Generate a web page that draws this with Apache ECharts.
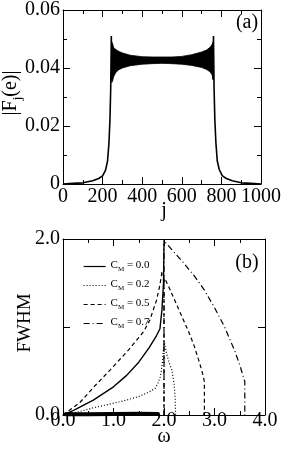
<!DOCTYPE html>
<html>
<head>
<meta charset="utf-8">
<script src="https://cdn.jsdelivr.net/npm/echarts@6/dist/echarts.min.js"></script>
<style>
html,body{margin:0;padding:0;background:#fff;}
#c{width:284px;height:449px;}
</style>
</head>
<body>
<div id="c"></div>
<script>
// ---------- Panel (a) data ----------
const aJLeft  = [0, 50, 100, 150, 180, 200, 215, 225, 232, 237, 241, 243, 244, 246];
const aFLeft  = [0, 0.0002, 0.0004, 0.0011, 0.0019, 0.0028, 0.0048, 0.008, 0.014, 0.022, 0.033, 0.045, 0.051, 0.036];
const aJRight = [758, 760, 761, 763, 767, 772, 779, 789, 805, 825, 855, 900, 950, 1000];
const aFRight = [0.036, 0.051, 0.045, 0.033, 0.022, 0.0145, 0.008, 0.005, 0.0028, 0.0019, 0.0011, 0.0004, 0.0002, 0];
const bandJ  = [246, 250, 256, 265, 280, 300, 340, 400, 450, 500, 550, 600, 650, 700, 725, 740, 750, 755, 758];
const bandHi = [0.049, 0.0485, 0.047, 0.0465, 0.0458, 0.0452, 0.0444, 0.0439, 0.0438, 0.0438, 0.0438, 0.044, 0.0446, 0.0455, 0.0462, 0.047, 0.0478, 0.0485, 0.049];
const bandLo = [0.035, 0.0355, 0.037, 0.0383, 0.0393, 0.0400, 0.0408, 0.0413, 0.0415, 0.0416, 0.0415, 0.0413, 0.0409, 0.0402, 0.0395, 0.0388, 0.038, 0.0372, 0.036];
const aXTicks = [0, 200, 400, 600, 800, 1000];
const aYTicks = [0, 0.02, 0.04, 0.06];

// ---------- Panel (b) data ----------
const cm00W = [0, 0.2, 0.6, 1.0, 1.26, 1.5, 1.7, 1.85, 1.92, 1.96, 1.99, 2.0];
const cm00F = [0, 0.05, 0.17, 0.32, 0.45, 0.6, 0.76, 0.9, 0.98, 1.2, 1.5, 1.95];
const cm00BandW = [0.05, 0.5, 1.0, 1.5, 1.88];
const cm00BandF = [0.008, 0.009, 0.011, 0.013, 0.011];
const cm02W = [0, 0.3, 0.59, 0.9, 1.26, 1.5, 1.7, 1.82, 1.88, 1.93, 1.97, 2.0, 2.05, 2.1, 2.16, 2.2, 2.22, 2.23];
const cm02F = [0, 0.035, 0.08, 0.12, 0.17, 0.21, 0.26, 0.3, 0.36, 0.44, 0.6, 0.84, 0.7, 0.6, 0.5, 0.35, 0.2, 0];
const cm05W = [0, 0.33, 0.63, 0.93, 1.3, 1.6, 1.72, 1.85, 1.92, 1.96, 2.0, 2.1, 2.2, 2.3, 2.4, 2.5, 2.6, 2.7, 2.76, 2.8, 2.8];
const cm05F = [0, 0.14, 0.33, 0.51, 0.74, 0.95, 1.08, 1.3, 1.48, 1.63, 1.57, 1.45, 1.32, 1.19, 1.06, 0.93, 0.78, 0.6, 0.48, 0.38, 0];
const cm05VW = [2.0, 2.0];
const cm05VF = [0, 1.57];
const cm07W = [2.0, 2.0, 2.03, 2.2, 2.4, 2.6, 2.8, 3.0, 3.2, 3.4, 3.5, 3.6, 3.6];
const cm07F = [0, 1.99, 1.96, 1.85, 1.72, 1.58, 1.42, 1.22, 1.0, 0.73, 0.57, 0.38, 0];
const bXTicks = [0, 1, 2, 3, 4];
const bYTicks = [0, 1, 2];
const legendNames = ['C_M = 0.0', 'C_M = 0.2', 'C_M = 0.5', 'C_M = 0.7'];

const zip = (a, b) => a.map((v, i) => [v, b[i]]);
const FONT = 'Liberation Serif';
const BLACK = '#000';

function axisCommon(opts) {
  return Object.assign({
    type: 'value',
    axisLine: { show: true, onZero: false, lineStyle: { color: BLACK, width: 1 } },
    axisTick: { show: true, inside: true, length: 7, lineStyle: { color: BLACK, width: 1 } },
    splitLine: { show: false },
    axisLabel: { show: false }
  }, opts);
}

const chart = echarts.init(document.getElementById('c'), null, { renderer: 'canvas' });

const option = {
  backgroundColor: '#fff',
  animation: false,
  color: [BLACK],
  grid: [
    { left: 63, top: 9, width: 202, height: 175 },
    { left: 63, top: 239, width: 202, height: 176 }
  ],
  xAxis: [
    axisCommon({ gridIndex: 0, position: 'bottom', min: aXTicks[0], max: aXTicks[aXTicks.length - 1], interval: aXTicks[1] - aXTicks[0],
      minorTick: { show: true, splitNumber: 2, length: 4, lineStyle: { color: BLACK } },
      axisLabel: { show: true, margin: 3, color: BLACK, fontFamily: FONT, fontSize: 20, formatter: v => String(Math.round(v)) } }),
    axisCommon({ gridIndex: 0, position: 'top', min: aXTicks[0], max: aXTicks[aXTicks.length - 1], interval: aXTicks[1] - aXTicks[0],
      minorTick: { show: true, splitNumber: 2, length: 4, lineStyle: { color: BLACK } } }),
    axisCommon({ gridIndex: 1, position: 'bottom', min: bXTicks[0], max: bXTicks[bXTicks.length - 1], interval: 1,
      minorTick: { show: true, splitNumber: 2, length: 4, lineStyle: { color: BLACK } },
      axisLabel: { show: true, margin: -4, color: BLACK, fontFamily: FONT, fontSize: 20, formatter: v => v.toFixed(1) } }),
    axisCommon({ gridIndex: 1, position: 'top', min: bXTicks[0], max: bXTicks[bXTicks.length - 1], interval: 1,
      minorTick: { show: true, splitNumber: 2, length: 4, lineStyle: { color: BLACK } } })
  ],
  yAxis: [
    axisCommon({ gridIndex: 0, position: 'left', min: aYTicks[0], max: aYTicks[aYTicks.length - 1], interval: 0.02,
      minorTick: { show: true, splitNumber: 2, length: 4, lineStyle: { color: BLACK } },
      axisLabel: { show: true, margin: 3, color: BLACK, fontFamily: FONT, fontSize: 20,
        formatter: v => (Math.abs(v) < 1e-9 ? '0' : v.toFixed(2)) } }),
    axisCommon({ gridIndex: 0, position: 'right', min: aYTicks[0], max: aYTicks[aYTicks.length - 1], interval: 0.02,
      minorTick: { show: true, splitNumber: 2, length: 4, lineStyle: { color: BLACK } } }),
    axisCommon({ gridIndex: 1, position: 'left', min: bYTicks[0], max: bYTicks[bYTicks.length - 1], interval: 1,
      axisLabel: { show: true, margin: 3, color: BLACK, fontFamily: FONT, fontSize: 20,
        formatter: v => (Math.abs(v - 1) < 1e-9 ? '' : v.toFixed(1)) } }),
    axisCommon({ gridIndex: 1, position: 'right', min: bYTicks[0], max: bYTicks[bYTicks.length - 1], interval: 1 })
  ],
  legend: {
    show: true,
    data: legendNames,
    orient: 'vertical',
    left: 78,
    top: 255,
    itemWidth: 22,
    itemHeight: 10,
    itemGap: 6,
    itemStyle: { opacity: 0 },
    lineStyle: { width: 1.2, color: BLACK },
    formatter: n => '{c|C}{s|M}{c| = ' + n.split('= ')[1] + '}',
    textStyle: {
      color: BLACK,
      fontFamily: FONT,
      rich: {
        c: { fontFamily: FONT, fontSize: 11, color: BLACK, lineHeight: 13, verticalAlign: 'top' },
        s: { fontFamily: FONT, fontSize: 7, color: BLACK, lineHeight: 8, padding: [6, 0, 0, 0], verticalAlign: 'top' }
      }
    }
  },
  graphic: [
    { type: 'text', x: 12, y: 93, rotation: Math.PI / 2, z: 10,
      style: { text: '{n||F}{s|j}{n|(e)|}', align: 'center', verticalAlign: 'middle', fill: BLACK,
        rich: {
          n: { fontFamily: FONT, fontSize: 20, lineHeight: 22, verticalAlign: 'top', fill: BLACK },
          s: { fontFamily: FONT, fontSize: 13, lineHeight: 14, padding: [10, 0, 0, 0], verticalAlign: 'top', fill: BLACK }
        } } },
    { type: 'text', x: 164, y: 211, z: 10,
      style: { text: 'j', align: 'center', verticalAlign: 'middle', fontFamily: FONT, fontSize: 20, fill: BLACK } },
    { type: 'text', x: 247, y: 23, z: 10,
      style: { text: '(a)', align: 'center', verticalAlign: 'middle', fontFamily: FONT, fontSize: 20, fill: BLACK } },
    { type: 'text', x: 25, y: 323, rotation: Math.PI / 2, z: 10,
      style: { text: 'FWHM', align: 'center', verticalAlign: 'middle', fontFamily: FONT, fontSize: 19, fill: BLACK } },
    { type: 'text', x: 164, y: 437, z: 10,
      style: { text: 'ω', align: 'center', verticalAlign: 'middle', fontFamily: FONT, fontSize: 20, fill: BLACK } },
    { type: 'text', x: 247, y: 263, z: 10,
      style: { text: '(b)', align: 'center', verticalAlign: 'middle', fontFamily: FONT, fontSize: 20, fill: BLACK } }
  ],
  series: [
    // Panel (a)
    { type: 'line', name: 'aLeft', xAxisIndex: 0, yAxisIndex: 0, data: zip(aJLeft, aFLeft), symbol: 'none',
      lineStyle: { color: BLACK, width: 1.6 } },
    { type: 'line', name: 'aRight', xAxisIndex: 0, yAxisIndex: 0, data: zip(aJRight, aFRight), symbol: 'none',
      lineStyle: { color: BLACK, width: 1.6 } },
    { type: 'custom', name: 'band', xAxisIndex: 0, yAxisIndex: 0,
      data: [[bandJ[0], bandLo[0]]],
      renderItem: (params, api) => {
        const top = bandJ.map((j, i) => api.coord([j, bandHi[i]]));
        const bot = bandJ.map((j, i) => api.coord([j, bandLo[i]])).reverse();
        return { type: 'polygon', shape: { points: top.concat(bot) },
          style: { fill: BLACK, stroke: BLACK, lineWidth: 0.8 } };
      } },
    // Panel (b)
    { type: 'line', name: 'C_M = 0.0', xAxisIndex: 2, yAxisIndex: 2, data: zip(cm00W, cm00F), symbol: 'none',
      itemStyle: { color: BLACK }, lineStyle: { color: BLACK, width: 1.4, type: 'solid' } },
    { type: 'line', name: 'C_M = 0.0', xAxisIndex: 2, yAxisIndex: 2, data: zip(cm00BandW, cm00BandF), symbol: 'none', clip: false,
      itemStyle: { color: BLACK }, lineStyle: { color: BLACK, width: 4, type: 'solid', cap: 'round' } },
    { type: 'line', name: 'C_M = 0.2', xAxisIndex: 2, yAxisIndex: 2, data: zip(cm02W, cm02F), symbol: 'none',
      itemStyle: { color: BLACK }, lineStyle: { color: BLACK, width: 1.2, type: [1, 2] } },
    { type: 'line', name: 'C_M = 0.5', xAxisIndex: 2, yAxisIndex: 2, data: zip(cm05W, cm05F), symbol: 'none',
      itemStyle: { color: BLACK }, lineStyle: { color: BLACK, width: 1.2, type: [4, 3] } },
    { type: 'line', name: 'C_M = 0.5', xAxisIndex: 2, yAxisIndex: 2, data: zip(cm05VW, cm05VF), symbol: 'none',
      itemStyle: { color: BLACK }, lineStyle: { color: BLACK, width: 1.2, type: [4, 3] } },
    { type: 'line', name: 'C_M = 0.7', xAxisIndex: 2, yAxisIndex: 2, data: zip(cm07W, cm07F), symbol: 'none',
      itemStyle: { color: BLACK }, lineStyle: { color: BLACK, width: 1.2, type: [6, 3, 1, 3] } }
  ]
};
chart.setOption(option);
</script>
</body>
</html>
